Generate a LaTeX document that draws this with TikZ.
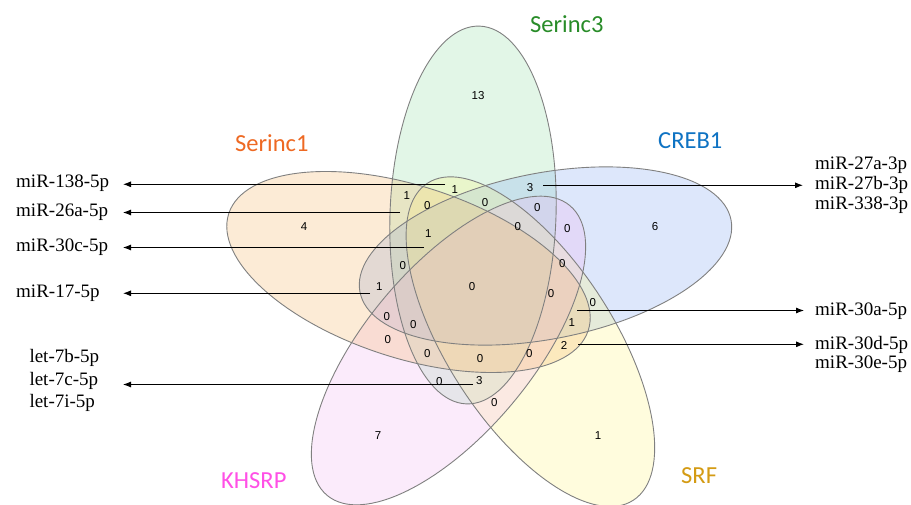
\documentclass[tikz,border=0pt]{standalone}
\usepackage{fontspec}
\setmainfont{Liberation Serif}
\newfontfamily\numfont{Liberation Sans}
\newfontfamily\catfont{Carlito}
\usetikzlibrary{arrows.meta}
\definecolor{fgreen}{RGB}{143,223,163}
\definecolor{forange}{RGB}{247,179,95}
\definecolor{fblue}{RGB}{123,163,243}
\definecolor{fyellow}{RGB}{255,247,123}
\definecolor{fpink}{RGB}{243,179,243}
\definecolor{venngray}{RGB}{128,128,128}
\definecolor{tgreen}{RGB}{40,140,40}
\definecolor{torange}{RGB}{238,105,35}
\definecolor{tblue}{RGB}{15,115,195}
\definecolor{tgold}{RGB}{212,155,20}
\definecolor{tpink}{RGB}{255,80,230}
\begin{document}
\begin{tikzpicture}[x=1pt,y=-1pt,
  setfill/.style={fill=#1, fill opacity=0.25, draw=none},
  setline/.style={draw=venngray, line width=0.9pt, fill=none},
  num/.style={font=\numfont\fontsize{11.5}{13}\selectfont, inner sep=0pt},
  mir/.style={font=\fontsize{19}{22}\selectfont, inner sep=0pt, anchor=base west},
  cat/.style={font=\catfont\fontsize{24.5}{28}\selectfont, inner sep=0pt, anchor=base west},
  arr/.style={-{Latex[length=8pt,width=6pt]}, line width=0.9pt}]
\useasboundingbox[fill=white] (0,0) rectangle (911,505);
% fills
\path[setfill=fgreen, rotate around={88:(473,215)}] (473,215) ellipse [x radius=189, y radius=83];
\path[setfill=fblue, rotate around={11:(545.5,256)}] (545.5,256) ellipse [x radius=189, y radius=83];
\path[setfill=fyellow, rotate around={-57:(530.4,341.7)}] (530.4,341.7) ellipse [x radius=189, y radius=83];
\path[setfill=fpink, rotate around={50:(448.5,350.5)}] (448.5,350.5) ellipse [x radius=189, y radius=83];
\path[setfill=forange, rotate around={-18:(408.5,272)}] (408.5,272) ellipse [x radius=189, y radius=86];
% outlines
\path[setline, rotate around={88:(473,215)}] (473,215) ellipse [x radius=189, y radius=83];
\path[setline, rotate around={11:(545.5,256)}] (545.5,256) ellipse [x radius=189, y radius=83];
\path[setline, rotate around={-57:(530.4,341.7)}] (530.4,341.7) ellipse [x radius=189, y radius=83];
\path[setline, rotate around={50:(448.5,350.5)}] (448.5,350.5) ellipse [x radius=189, y radius=83];
\path[setline, rotate around={-18:(408.5,272)}] (408.5,272) ellipse [x radius=189, y radius=86];
% set labels
\node[cat, text=tgreen] (lserinc3) at (530,32.7) {Serinc3};
\node[cat, text=torange] (lserinc1) at (235,151.5) {Serinc1};
\node[cat, text=tblue] (lcreb1) at (658,148.3) {CREB1};
\node[cat, text=tgold] (lsrf) at (681,483.3) {SRF};
\node[cat, text=tpink] (lkhsrp) at (221,488.3) {KHSRP};
% region numbers
\node[num] (n13) at (478,96) {13};
\node[num] (n4) at (304,227) {4};
\node[num] (n6) at (655,227) {6};
\node[num] (n7) at (378,436) {7};
\node[num] (n1s) at (598,436) {1};
\node[num] (n0c) at (472,287) {0};
\node[num] (na) at (454.7,190) {1};
\node[num] (nb) at (406.7,196) {1};
\node[num] (nc) at (427.3,205.7) {0};
\node[num] (nd) at (485,202.7) {0};
\node[num] (ne) at (530,187.7) {3};
\node[num] (nf) at (537.3,207.3) {0};
\node[num] (ng) at (567.3,228.3) {0};
\node[num] (nh) at (517.7,226.3) {0};
\node[num] (ni) at (428.3,233.7) {1};
\node[num] (nj) at (402.7,265.3) {0};
\node[num] (nk) at (562.3,264) {0};
\node[num] (nl) at (379.3,286.7) {1};
\node[num] (nm) at (551,293.3) {0};
\node[num] (nn) at (592.7,302.2) {0};
\node[num] (no) at (386.7,316.7) {0};
\node[num] (np) at (413.3,325) {0};
\node[num] (nq) at (571.7,322.3) {1};
\node[num] (nr) at (387.7,339.3) {0};
\node[num] (ns) at (564,345.7) {2};
\node[num] (nt) at (427.3,353.3) {0};
\node[num] (nu) at (480,359) {0};
\node[num] (nv) at (529.3,353.3) {0};
\node[num] (nw) at (439.3,381.7) {0};
\node[num] (nx) at (479.3,381) {3};
\node[num] (ny) at (494.3,402.3) {0};
% miRNA labels
\node[mir] (m138) at (16,188) {miR-138-5p};
\node[mir] (m26a) at (16,217) {miR-26a-5p};
\node[mir] (m30c) at (16,252) {miR-30c-5p};
\node[mir] (m17) at (16,298) {miR-17-5p};
\node[mir] (l7b) at (29.3,362.5) {let-7b-5p};
\node[mir] (l7c) at (29.3,385) {let-7c-5p};
\node[mir] (l7i) at (29.3,407.5) {let-7i-5p};
\node[mir] (m27a) at (815,170) {miR-27a-3p};
\node[mir] (m27b) at (815,190) {miR-27b-3p};
\node[mir] (m338) at (815,209.5) {miR-338-3p};
\node[mir] (m30a) at (815,315.5) {miR-30a-5p};
\node[mir] (m30d) at (815,349) {miR-30d-5p};
\node[mir] (m30e) at (815,368.5) {miR-30e-5p};
% arrow ends
\coordinate (s138) at (445,184.3);
\coordinate (t138) at (123,184.3);
\coordinate (s26a) at (400,212.5);
\coordinate (t26a) at (123,212.5);
\coordinate (s30c) at (424,247.5);
\coordinate (t30c) at (123,247.5);
\coordinate (s17) at (370,293.3);
\coordinate (t17) at (123,293.3);
\coordinate (slet) at (473,384.5);
\coordinate (tlet) at (123,384.5);
\coordinate (s27) at (543,185.3);
\coordinate (t27) at (803,185.3);
\coordinate (s30a) at (577,310.5);
\coordinate (t30a) at (804,310.5);
\coordinate (s30d) at (578,344.3);
\coordinate (t30d) at (804,344.3);
\draw[arr] (s138) -- (t138);
\draw[arr] (s26a) -- (t26a);
\draw[arr] (s30c) -- (t30c);
\draw[arr] (s17) -- (t17);
\draw[arr] (slet) -- (tlet);
\draw[arr] (s27) -- (t27);
\draw[arr] (s30a) -- (t30a);
\draw[arr] (s30d) -- (t30d);
\end{tikzpicture}
\end{document}
